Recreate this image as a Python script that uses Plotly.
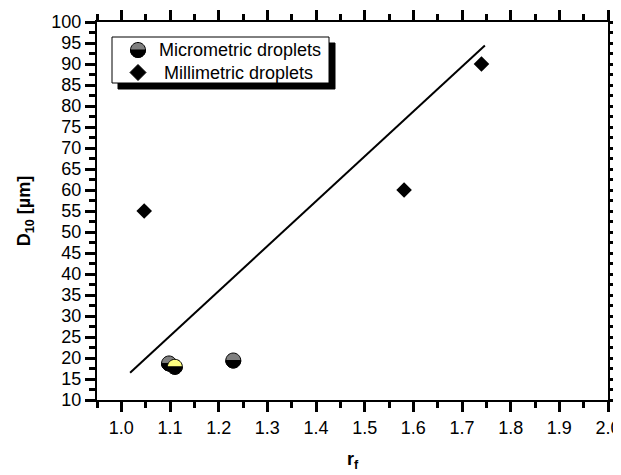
import numpy as np
import plotly.graph_objects as go

# ---- data ----
micro_x = [1.098, 1.110, 1.230]
micro_y = [18.7, 17.9, 19.4]
micro_top = ["#808080", "#ffff80", "#808080"]

milli_x = [1.047, 1.581, 1.740]
milli_y = [55.0, 60.0, 90.0]

fit_x = [1.018, 1.747]
fit_y = [16.5, 94.4]

legend_labels = ["Micrometric droplets", "Millimetric droplets"]

FONT = "Liberation Sans"
R = 7.5
K = 0.5523 * R


def full_circle(r=R, k=K):
    return (f"M {r},0 C {r},{k} {k},{r} 0,{r} C {-k},{r} {-r},{k} {-r},0 "
            f"C {-r},{-k} {-k},{-r} 0,{-r} C {k},{-r} {r},{-k} {r},0 Z")


def bottom_half(r=R, k=K):
    return (f"M {-r},0 C {-r},{-k} {-k},{-r} 0,{-r} C {k},{-r} {r},{-k} {r},0 Z")


fig = go.Figure()

fig.add_trace(go.Scatter(x=fit_x, y=fit_y, mode="lines",
                         line=dict(color="black", width=2), showlegend=False))
fig.add_trace(go.Scatter(x=milli_x, y=milli_y, mode="markers",
                         marker=dict(symbol="diamond", size=12, color="black"),
                         showlegend=False))

shapes = []


def half_marker(xa, ya, top, xref="x", yref="y"):
    out = []
    out.append(dict(type="path", xref=xref, yref=yref, xsizemode="pixel", ysizemode="pixel",
                    xanchor=xa, yanchor=ya, path=full_circle(), fillcolor=top,
                    line=dict(color="black", width=1), layer="above"))
    out.append(dict(type="path", xref=xref, yref=yref, xsizemode="pixel", ysizemode="pixel",
                    xanchor=xa, yanchor=ya, path=bottom_half(), fillcolor="black",
                    line=dict(color="black", width=1), layer="above"))
    return out


for xv, yv, c in zip(micro_x, micro_y, micro_top):
    shapes += half_marker(xv, yv, c)

# ---- custom legend (plot area: 511 x 378 px) ----
PW, PH = 511.0, 378.0


def px_x(dx):
    return dx / PW


def px_y(dy):
    return 1 - dy / PH


lx0, lx1, ly0, ly1 = 15, 232, 15, 61  # offsets from top-left of plot area
shapes.append(dict(type="rect", xref="paper", yref="paper",
                   x0=px_x(lx0 + 6), x1=px_x(lx1 + 6), y0=px_y(ly1 + 6), y1=px_y(ly0 + 6),
                   fillcolor="black", line=dict(color="black", width=1), layer="above"))
shapes.append(dict(type="rect", xref="paper", yref="paper",
                   x0=px_x(lx0), x1=px_x(lx1), y0=px_y(ly1), y1=px_y(ly0),
                   fillcolor="white", line=dict(color="black", width=1), layer="above"))
shapes += half_marker(px_x(41), px_y(28), "#808080", xref="paper", yref="paper")
shapes.append(dict(type="path", xref="paper", yref="paper", xsizemode="pixel", ysizemode="pixel",
                   xanchor=px_x(41), yanchor=px_y(50.5), path="M -8,0 L 0,8 L 8,0 L 0,-8 Z",
                   fillcolor="black", line=dict(color="black", width=1), layer="above"))

annotations = [
    dict(xref="paper", yref="paper", x=px_x(60), y=px_y(28), text=legend_labels[0],
         showarrow=False, xanchor="left", yanchor="middle",
         font=dict(family=FONT, size=18, color="black")),
    dict(xref="paper", yref="paper", x=px_x(65), y=px_y(50.5), text=legend_labels[1],
         showarrow=False, xanchor="left", yanchor="middle",
         font=dict(family=FONT, size=18, color="black")),
]

axis_common = dict(
    showline=True, linecolor="black", linewidth=2, mirror="allticks",
    ticks="outside", ticklen=10, tickwidth=3, tickcolor="black",
    showgrid=False, zeroline=False, automargin=False,
    tickfont=dict(family=FONT, size=18, color="black"),
)

fig.update_layout(
    template="none",
    width=613, height=467, autosize=False,
    margin=dict(l=89, r=13, t=14, b=75),
    plot_bgcolor="white", paper_bgcolor="white",
    showlegend=False,
    font=dict(family=FONT, color="black"),
    xaxis=dict(range=[0.95, 2.0], tick0=1.0, dtick=0.1, tickformat=".1f",
               minor=dict(dtick=0.05, tick0=1.0, ticks="outside", ticklen=6, tickwidth=3,
                          tickcolor="black"),
               title=dict(text="<b>r<sub>f</sub></b>", standoff=16,
                          font=dict(family=FONT, size=18, color="black")),
               **axis_common),
    yaxis=dict(range=[10, 100], tick0=10, dtick=5,
               minor=dict(dtick=2.5, tick0=10, ticks="outside", ticklen=6, tickwidth=3,
                          tickcolor="black"),
               title=dict(text="<b>D<sub>10</sub> [µm]</b>", standoff=16,
                          font=dict(family=FONT, size=18, color="black")),
               **axis_common),
    shapes=shapes,
    annotations=annotations,
)

fig.write_html("out.html")
